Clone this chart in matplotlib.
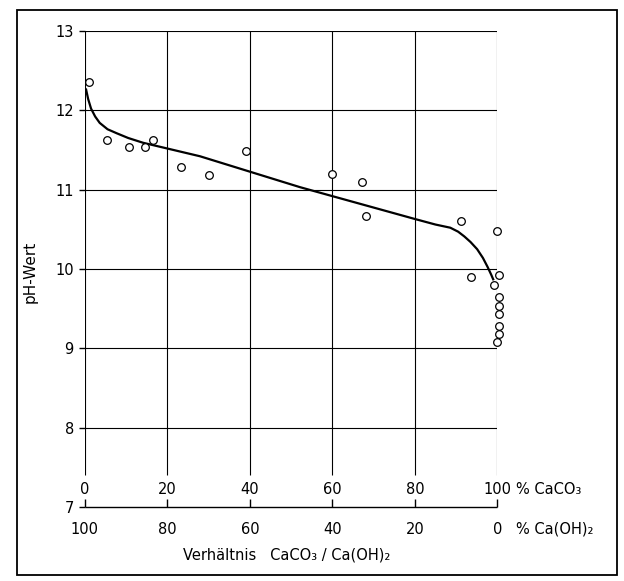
import matplotlib.pyplot as plt
from matplotlib.patches import Rectangle

# measured points: % CaCO3 vs pH
caco3_pct = [1.0, 5.3, 10.7, 14.6, 16.5, 23.3, 30.1, 39.0,
             59.9, 67.2, 68.2, 91.3, 93.7,
             100.0, 100.5, 99.3, 100.5, 100.5, 100.5, 100.5, 100.5, 100.0]
ph_meas = [12.35, 11.63, 11.54, 11.54, 11.62, 11.28, 11.18, 11.49,
           11.20, 11.10, 10.67, 10.61, 9.90,
           10.48, 9.92, 9.80, 9.65, 9.53, 9.43, 9.28, 9.18, 9.08]

# hand drawn trend curve
curve_x = [0.3, 0.8, 1.5, 2.5, 3.6, 5.5, 7.7, 10.5, 14.1, 27.9, 52.2,
           80.0, 85.0, 88.6, 90.5, 92.0, 93.5, 95.1, 96.5, 97.6, 98.5, 99.0]
curve_y = [12.26, 12.14, 12.02, 11.92, 11.84, 11.76, 11.71, 11.65, 11.59, 11.42, 11.03,
           10.63, 10.56, 10.52, 10.47, 10.41, 10.34, 10.25, 10.14, 10.03, 9.93, 9.87]

x_ticks = [0, 20, 40, 60, 80, 100]
x_ticks_oh = ["100", "80", "60", "40", "20", "0"]
y_ticks = [7, 8, 9, 10, 11, 12, 13]

fig = plt.figure(figsize=(6.24, 5.81), dpi=100)
ax = fig.add_axes([0.136, 0.127, 0.661, 0.82])
ax.set_xlim(0, 100)
ax.set_ylim(7, 13)
for s in ax.spines.values():
    s.set_visible(False)

# grid / frame
ax.vlines(x_ticks, 7.4, 13, color="black", lw=0.8)
ax.hlines(y_ticks[1:], 0, 100, color="black", lw=0.8)
ax.hlines(13, 0, 100, color="black", lw=1.2)
ax.vlines(0, 7.4, 13, color="black", lw=1.2)
# bracket at the bottom
ax.hlines(7, 0, 100, color="black", lw=1.0, clip_on=False)
ax.vlines(x_ticks, 7, 7.1, color="black", lw=1.0, clip_on=False)

ax.plot(curve_x, curve_y, color="black", lw=1.6, zorder=3)
ax.plot(caco3_pct, ph_meas, "o", ms=5.5, mfc="white", mec="black", mew=0.9,
        zorder=4, clip_on=False)

ax.set_xticks([])
ax.set_yticks(y_ticks)
ax.tick_params(axis="y", length=4, width=1, labelsize=10.5, pad=4)

for x in x_ticks:
    ax.text(x, 7.22, str(x), ha="center", va="center", fontsize=10.5)
for x, lab in zip(x_ticks, x_ticks_oh):
    ax.text(x, 6.72, lab, ha="center", va="center", fontsize=10.5)
ax.text(104.5, 7.22, "% CaCO₃", ha="left", va="center", fontsize=10.5)
ax.text(104.5, 6.72, "% Ca(OH)₂", ha="left", va="center", fontsize=10.5)

fig.text(0.048, 0.532, "pH-Wert", rotation=90, ha="center", va="center", fontsize=11)
fig.text(0.46, 0.045, "Verhältnis   CaCO₃ / Ca(OH)₂", ha="center", va="center", fontsize=10.5)

fig.add_artist(Rectangle((0.027, 0.010), 0.962, 0.972, transform=fig.transFigure,
                         fill=False, ec="black", lw=1.3))

fig.savefig("out.png", dpi=100)
